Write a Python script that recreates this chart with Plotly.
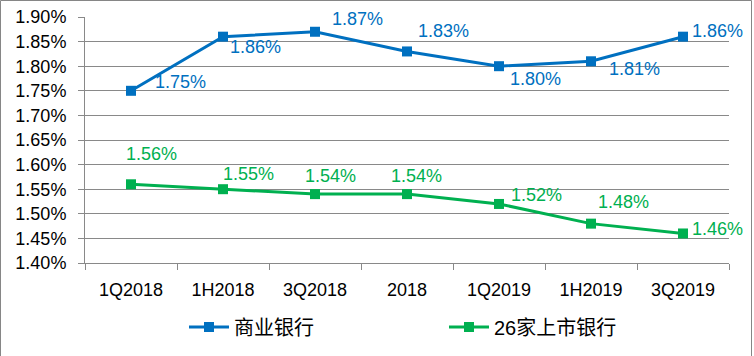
import plotly.graph_objects as go

categories = ["1Q2018", "1H2018", "3Q2018", "2018", "1Q2019", "1H2019", "3Q2019"]
commercial_banks = [1.75, 1.86, 1.87, 1.83, 1.80, 1.81, 1.86]
listed_banks = [1.56, 1.55, 1.54, 1.54, 1.52, 1.48, 1.46]
series_names = ["商业银行", "26家上市银行"]
y_ticks = [1.40, 1.45, 1.50, 1.55, 1.60, 1.65, 1.70, 1.75, 1.80, 1.85, 1.90]

BLUE = "#0070C0"
GREEN = "#00B050"
GRID = "#898989"
FONT = "Liberation Sans, Noto Sans CJK SC, sans-serif"

# label offsets (px): left-edge dx, center dy (screen down positive)
blue_off = [(22, -9), (5, 10), (15, -13), (9, -20), (9, 13), (16, 8), (7, -6)]
green_off = [(-7, -30), (-2, -15), (-12, -18), (-18, -18), (10, -9), (5, -22), (7, -4)]

fig = go.Figure()
fig.add_trace(go.Scatter(
    x=categories, y=commercial_banks, name=series_names[0],
    mode="lines+markers",
    line=dict(color=BLUE, width=3),
    marker=dict(symbol="square", size=10, color=BLUE),
))
fig.add_trace(go.Scatter(
    x=categories, y=listed_banks, name=series_names[1],
    mode="lines+markers",
    line=dict(color=GREEN, width=3),
    marker=dict(symbol="square", size=10, color=GREEN),
))

annotations = []
for vals, offs, col in ((commercial_banks, blue_off, BLUE), (listed_banks, green_off, GREEN)):
    for i, (v, (dx, dy)) in enumerate(zip(vals, offs)):
        annotations.append(dict(
            x=i, y=v, xref="x", yref="y", text=f"{v:.2f}%",
            showarrow=False, xanchor="left", yanchor="middle",
            xshift=dx, yshift=-dy,
            font=dict(family=FONT, size=18, color=col),
        ))

W, H = 754, 356
L, R, T, B = 85, 25, 17, 93
pw, ph = W - L - R, H - T - B

fig.update_layout(
    width=W, height=H,
    margin=dict(l=L, r=R, t=T, b=B, autoexpand=False),
    paper_bgcolor="white", plot_bgcolor="white",
    font=dict(family=FONT, size=18, color="#000000"),
    showlegend=True,
    legend=dict(
        orientation="h", xref="container", yref="container",
        x=184 / W, y=1 - 327 / H, xanchor="left", yanchor="middle",
        font=dict(family=FONT, size=20, color="#000000"),
        itemwidth=40,
        entrywidth=205, entrywidthmode="pixels",
        bgcolor="rgba(0,0,0,0)",
    ),
    annotations=annotations,
    shapes=[dict(
        type="rect", xref="paper", yref="paper",
        x0=-(L - 0.5) / pw, x1=1 + (751.5 - (L + pw)) / pw,
        y0=-(B + 10) / ph, y1=1 + (T - 0.5) / ph,
        line=dict(color="#868686", width=1), layer="below",
    )],
)
fig.update_xaxes(
    type="category", range=[-0.5, len(categories) - 0.5],
    tickson="boundaries", ticks="outside", ticklen=6,
    tickcolor=GRID, showline=True, linecolor=GRID, linewidth=1,
    showgrid=False, tickfont=dict(family=FONT, size=18),
    ticklabelstandoff=10, tickangle=0, automargin=False,
)
fig.update_yaxes(
    range=[1.40, 1.90], tickvals=y_ticks,
    ticktext=[f"{t:.2f}%" for t in y_ticks],
    ticks="outside", ticklen=6, tickcolor=GRID,
    showline=True, linecolor=GRID, linewidth=1,
    showgrid=True, gridcolor=GRID, gridwidth=1,
    zeroline=False, tickfont=dict(family=FONT, size=18),
    ticklabelstandoff=8, automargin=False,
)

fig.write_html(
    "out.html",
    config={"displayModeBar": False},
    post_script="document.body.style.margin='0';document.body.style.overflow='hidden';",
)
